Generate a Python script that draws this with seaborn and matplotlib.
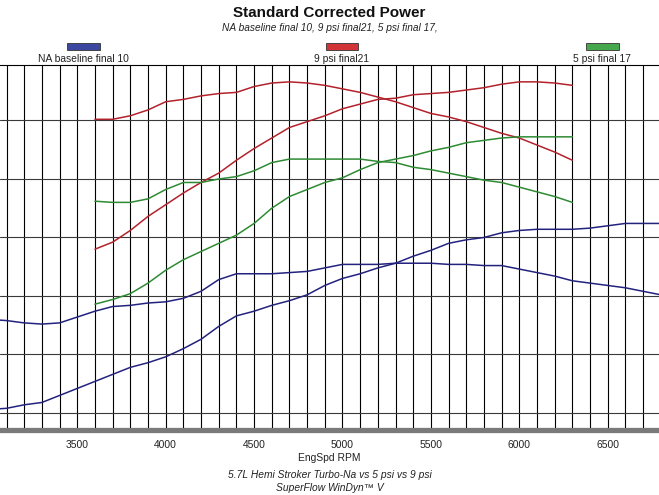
import matplotlib
matplotlib.use("Agg")
import matplotlib.pyplot as plt
from matplotlib.patches import Rectangle
from matplotlib.ticker import MultipleLocator
import pandas as pd
import seaborn as sns

# ---------------- data ----------------
rpm_na = [3000, 3100, 3200, 3300, 3400, 3500, 3600, 3700, 3800, 3900,
          4000, 4100, 4200, 4300, 4400, 4500, 4600, 4700, 4800, 4900,
          5000, 5100, 5200, 5300, 5400, 5500, 5600, 5700, 5800, 5900,
          6000, 6100, 6200, 6300, 6400, 6500, 6600, 6700, 6800]
na_torque = [180, 179, 177, 176, 177, 182, 187, 191, 192, 194,
             195, 198, 204, 214, 219, 219, 219, 220, 221, 224,
             227, 227, 227, 228, 228, 228, 227, 227, 226, 226,
             223, 220, 217, 213, 211, 209, 207, 204, 201]
na_power = [103, 104, 107, 109, 115, 121, 127, 133, 139, 143,
            148, 155, 163, 174, 183, 187, 192, 196, 201, 209,
            215, 219, 224, 228, 234, 239, 245, 248, 250, 254,
            256, 257, 257, 257, 258, 260, 262, 262, 262]

rpm_boost = [3600, 3700, 3800, 3900, 4000, 4100, 4200, 4300, 4400, 4500,
             4600, 4700, 4800, 4900, 5000, 5100, 5200, 5300, 5400, 5500,
             5600, 5700, 5800, 5900, 6000, 6100, 6200, 6300]
psi9_torque = [351, 351, 354, 359, 366, 368, 371, 373, 374, 379,
               382, 383, 382, 380, 377, 374, 370, 366, 361, 356,
               353, 349, 344, 339, 335, 329, 323, 316]
psi9_power = [240, 246, 256, 268, 278, 288, 297, 305, 316, 326,
              335, 344, 349, 354, 360, 364, 368, 369, 372, 373,
              374, 376, 378, 381, 383, 383, 382, 380]
psi5_torque = [281, 280, 280, 283, 291, 297, 297, 300, 302, 307,
               314, 317, 317, 317, 317, 317, 315, 314, 310, 308,
               305, 302, 299, 297, 293, 289, 285, 280]
psi5_power = [193, 197, 202, 211, 222, 231, 238, 245, 252, 262,
              275, 285, 291, 297, 301, 308, 314, 317, 320, 324,
              327, 331, 333, 335, 336, 336, 336, 336]

run_names = ["NA baseline final 10", "9 psi final21", "5 psi final 17"]
run_colors = ["#23237e", "#b3222c", "#2e8b34"]
legend_fill = ["#3c48a0", "#d33438", "#46a84c"]
x_ticks = [3500, 4000, 4500, 5000, 5500, 6000, 6500]
title = "Standard Corrected Power"
subtitle = "NA baseline final 10, 9 psi final21, 5 psi final 17,"
x_label = "EngSpd RPM"
footer1 = "5.7L Hemi Stroker Turbo-Na vs 5 psi vs 9 psi"
footer2 = "SuperFlow WinDyn\u2122 V"

series = [
    (run_names[0], "torque", rpm_na, na_torque),
    (run_names[0], "power", rpm_na, na_power),
    (run_names[1], "torque", rpm_boost, psi9_torque),
    (run_names[1], "power", rpm_boost, psi9_power),
    (run_names[2], "torque", rpm_boost, psi5_torque),
    (run_names[2], "power", rpm_boost, psi5_power),
]
frames = []
for run, meas, xs, ys in series:
    frames.append(pd.DataFrame({"rpm": xs, "value": ys, "run": run, "measure": meas}))
df = pd.concat(frames, ignore_index=True)

# ---------------- figure ----------------
sns.set_style("white")
plt.rcParams["font.family"] = ["Liberation Sans", "DejaVu Sans"]

W, H = 659, 495
fig = plt.figure(figsize=(W / 100, H / 100), dpi=100)
ax_top_px, ax_bot_px = 65, 429.5
ax = fig.add_axes([0, 1 - ax_bot_px / H, 1, (ax_bot_px - ax_top_px) / H])

palette = dict(zip(run_names, run_colors))
for (run, meas), sub in df.groupby(["run", "measure"], sort=False):
    sns.lineplot(data=sub, x="rpm", y="value", color=palette[run], lw=1.1,
                 estimator=None, sort=False, ax=ax, legend=False)

ax.set_xlim(3063, 6790)
ax.set_ylim(85.9, 397.4)
ax.set_xticks(x_ticks)
ax.set_xticklabels([str(t) for t in x_ticks], fontsize=7.4, color="#222222")
ax.xaxis.set_minor_locator(MultipleLocator(100))
ax.set_yticks([100, 150, 200, 250, 300, 350])
ax.set_yticklabels([])
ax.tick_params(axis="y", length=0)
ax.tick_params(axis="x", which="major", length=5.5, width=0.8, color="black",
               direction="out", pad=2.2)
ax.tick_params(axis="x", which="minor", length=0)
ax.grid(True, axis="x", which="both", color="black", lw=0.8)
ax.grid(True, axis="y", which="major", color="#3a3a3a", lw=0.8)
ax.set_axisbelow(True)
ax.set_xlabel("")
ax.set_ylabel("")
for s in ["left", "right"]:
    ax.spines[s].set_visible(False)
ax.spines["top"].set_color("black")
ax.spines["top"].set_linewidth(0.8)
ax.spines["bottom"].set_color("#7a7a7a")
ax.spines["bottom"].set_linewidth(3.8)

# ---------------- texts ----------------
def fy(px):
    return 1 - px / H

fig.text(329.5 / W, fy(13), title, ha="center", va="center",
         fontsize=11, fontweight="bold", color="#111111")
fig.text(329.5 / W, fy(28), subtitle, ha="center", va="center",
         fontsize=7.3, style="italic", color="#222222")
fig.text(329.5 / W, fy(458), x_label, ha="center", va="center",
         fontsize=7.4, color="#222222")
fig.text(329.5 / W, fy(475), footer1, ha="center", va="center",
         fontsize=7.4, style="italic", color="#222222")
fig.text(329.5 / W, fy(488), footer2, ha="center", va="center",
         fontsize=7.4, style="italic", color="#222222")

# legend: colored bars with labels beneath
legend_centers_px = [83.5, 342, 602]
for name, fill, cx in zip(run_names, legend_fill, legend_centers_px):
    rect = Rectangle(((cx - 16.5) / W, fy(49.5)), 33 / W, 6.5 / H,
                     transform=fig.transFigure, facecolor=fill,
                     edgecolor="#333333", lw=0.6)
    fig.add_artist(rect)
    fig.text(cx / W, fy(59), name, ha="center", va="center",
             fontsize=7.4, color="#222222")

fig.savefig("out.png", dpi=100)
